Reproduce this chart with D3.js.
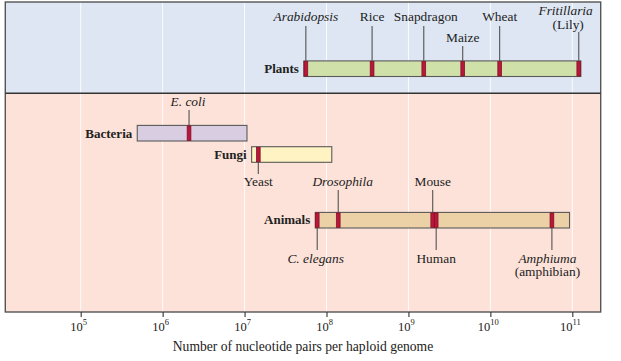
<!DOCTYPE html>
<html>
<head>
<meta charset="utf-8">
<script src="https://cdn.jsdelivr.net/npm/d3@7"></script>
<style>
  body { margin: 0; background: #fff; }
  text { font-family: "Liberation Serif", "Times New Roman", serif; fill: #222; }
</style>
</head>
<body>
<script>

// decades shown on the axis (powers of ten)
var decades = [5, 6, 7, 8, 9, 10, 11];

// groups of organisms, with the range of genome sizes
var groups = ["Plants", "Bacteria", "Fungi", "Animals"];
var groupMin = [5.3e7, 4.9e5, 1.22e7, 7.3e7];
var groupMax = [1.27e11, 1.07e7, 1.16e8, 9.25e10];
var groupFill = ["#cfe1a9", "#d9cde2", "#fff3c4", "#edd1a6"];

// single organisms marked on the bars
var species = ["Arabidopsis", "Rice", "Snapdragon", "Maize", "Wheat", "Fritillaria",
               "E. coli", "Yeast", "C. elegans", "Drosophila", "Mouse", "Human", "Amphiuma"];
var speciesGroup = ["Plants", "Plants", "Plants", "Plants", "Plants", "Plants",
                    "Bacteria", "Fungi", "Animals", "Animals", "Animals", "Animals", "Animals"];
var speciesSize = [5.6e7, 3.6e8, 1.54e9, 4.6e9, 1.3e10, 1.2e11,
                   2.1e6, 1.47e7, 7.7e7, 1.39e8, 1.98e9, 2.18e9, 5.64e10];
var speciesItalic = [true, false, false, false, false, true,
                     true, false, true, true, false, false, true];
var speciesSub = ["", "", "", "", "", "(Lily)", "", "", "", "", "", "", "(amphibian)"];

// where each label sits: baseline y, x shift, anchor, line top / bottom
var labelLayout = {
  "Arabidopsis": {y: 20.5, dx: 0, end: 26},
  "Rice":        {y: 20.5, dx: 0, end: 26},
  "Snapdragon":  {y: 20.5, dx: 2, end: 26},
  "Maize":       {y: 41.5, dx: 0, end: 46},
  "Wheat":       {y: 20.5, dx: 0, end: 26},
  "Fritillaria": {y: 15, dx: 14, anchor: "end", subDx: 5, end: 32},
  "E. coli":     {y: 106, dx: -1, end: 110},
  "Yeast":       {y: 185.5, dx: 0, end: 174},
  "C. elegans":  {y: 262.5, dx: -1.5, end: 250},
  "Drosophila":  {y: 185.5, dx: 4.5, end: 190},
  "Mouse":       {y: 185.5, dx: 0, end: 190},
  "Human":       {y: 262.5, dx: 0, end: 250},
  "Amphiuma":    {y: 262.5, dx: -4.5, end: 250}
};

// vertical centre of each group bar
var rowY = {"Plants": 68.7, "Bacteria": 133.2, "Fungi": 154.5, "Animals": 220.2};
var labelBaseline = {"Plants": 73, "Bacteria": 137.5, "Fungi": 159, "Animals": 224.3};

var width = 621, height = 361;
var frame = {left: 5.3, right: 600.7, top: 2, split: 93.3, bottom: 312};
var barH = 15.6;

var svg = d3.select("body").append("svg")
    .attr("width", width)
    .attr("height", height);

var x = d3.scaleLog()
    .domain([1e5, 1e11])
    .range([80.7, 572.3]);

// background panels
svg.append("rect")
    .attr("x", frame.left).attr("y", frame.top)
    .attr("width", frame.right - frame.left).attr("height", frame.split - frame.top)
    .style("fill", "#dde6f2");
svg.append("rect")
    .attr("x", frame.left).attr("y", frame.split)
    .attr("width", frame.right - frame.left).attr("height", frame.bottom - frame.split)
    .style("fill", "#fde2d9");

// white grid lines
svg.selectAll(".grid")
    .data(decades)
  .enter().append("line")
    .attr("class", "grid")
    .attr("x1", function(d) { return x(Math.pow(10, d)); })
    .attr("x2", function(d) { return x(Math.pow(10, d)); })
    .attr("y1", frame.top)
    .attr("y2", frame.bottom)
    .style("stroke", "#ffffff")
    .style("stroke-opacity", 0.85)
    .style("stroke-width", 1);

// frame and divider
svg.append("rect")
    .attr("x", frame.left).attr("y", frame.top)
    .attr("width", frame.right - frame.left).attr("height", frame.bottom - frame.top)
    .style("fill", "none")
    .style("stroke", "#555")
    .style("stroke-width", 1.4);
svg.append("line")
    .attr("x1", frame.left).attr("x2", frame.right)
    .attr("y1", frame.split).attr("y2", frame.split)
    .style("stroke", "#333")
    .style("stroke-width", 1.4);

// x axis with superscript labels
var axis = d3.axisBottom(x)
    .tickValues(decades.map(function(d) { return Math.pow(10, d); }))
    .tickSize(5)
    .tickFormat("");
var axisG = svg.append("g")
    .attr("transform", "translate(0," + frame.bottom + ")")
    .call(axis);
axisG.select(".domain").remove();
axisG.selectAll(".tick line").style("stroke", "#333").style("stroke-width", 1.1);

var tickText = svg.selectAll(".ticklabel")
    .data(decades)
  .enter().append("text")
    .attr("class", "ticklabel")
    .attr("x", function(d) { return x(Math.pow(10, d)) - 2; })
    .attr("y", 330.5)
    .attr("text-anchor", "middle")
    .style("font-size", "12.5px");
tickText.append("tspan").text("10");
tickText.append("tspan")
    .attr("dy", -5.5)
    .style("font-size", "8.5px")
    .text(function(d) { return d; });

svg.append("text")
    .attr("x", 303)
    .attr("y", 351)
    .attr("text-anchor", "middle")
    .style("font-size", "13.6px")
    .text("Number of nucleotide pairs per haploid genome");

// group bars
svg.selectAll(".bar")
    .data(groups)
  .enter().append("rect")
    .attr("class", "bar")
    .attr("x", function(d, i) { return x(groupMin[i]); })
    .attr("width", function(d, i) { return x(groupMax[i]) - x(groupMin[i]); })
    .attr("y", function(d) { return rowY[d] - barH / 2; })
    .attr("height", barH)
    .style("fill", function(d, i) { return groupFill[i]; })
    .style("stroke", "#5a5a5a")
    .style("stroke-width", 1.1);

svg.selectAll(".grouplabel")
    .data(groups)
  .enter().append("text")
    .attr("class", "grouplabel")
    .attr("x", function(d, i) { return x(groupMin[i]) - 5; })
    .attr("y", function(d) { return labelBaseline[d]; })
    .attr("text-anchor", "end")
    .style("font-size", "13px")
    .style("font-weight", "bold")
    .text(function(d) { return d; });

// leader lines from bar to species label
svg.selectAll(".leader")
    .data(species)
  .enter().append("line")
    .attr("class", "leader")
    .attr("x1", function(d, i) { return x(speciesSize[i]); })
    .attr("x2", function(d, i) { return x(speciesSize[i]); })
    .attr("y1", function(d, i) {
      var y = rowY[speciesGroup[i]];
      return labelLayout[d].end < y ? y - barH / 2 : y + barH / 2;
    })
    .attr("y2", function(d) { return labelLayout[d].end; })
    .style("stroke", "#444")
    .style("stroke-width", 1);

// red markers on the bars
svg.selectAll(".marker")
    .data(species)
  .enter().append("rect")
    .attr("class", "marker")
    .attr("x", function(d, i) { return x(speciesSize[i]) - 1.9; })
    .attr("width", 3.8)
    .attr("y", function(d, i) { return rowY[speciesGroup[i]] - barH / 2 + 0.5; })
    .attr("height", barH - 1)
    .style("fill", "#b8163b")
    .style("stroke", "#7d0f22")
    .style("stroke-width", 0.7);

// species labels
var speciesText = svg.selectAll(".species")
    .data(species)
  .enter().append("text")
    .attr("class", "species")
    .attr("x", function(d, i) { return x(speciesSize[i]) + labelLayout[d].dx; })
    .attr("y", function(d) { return labelLayout[d].y; })
    .attr("text-anchor", function(d) { return labelLayout[d].anchor || "middle"; })
    .style("font-size", "13.4px")
    .style("font-style", function(d, i) { return speciesItalic[i] ? "italic" : "normal"; })
    .text(function(d) { return d; });

// second line for a couple of labels
svg.selectAll(".subspecies")
    .data(species.filter(function(d, i) { return speciesSub[i] !== ""; }))
  .enter().append("text")
    .attr("class", "subspecies")
    .attr("x", function(d) {
      var i = species.indexOf(d);
      var l = labelLayout[d];
      return x(speciesSize[i]) + (l.subDx !== undefined ? l.subDx : l.dx);
    })
    .attr("y", function(d) { return labelLayout[d].y + 13.5; })
    .attr("text-anchor", function(d) { return labelLayout[d].anchor || "middle"; })
    .style("font-size", "13.4px")
    .text(function(d) { return speciesSub[species.indexOf(d)]; });

</script>
</body>
</html>
